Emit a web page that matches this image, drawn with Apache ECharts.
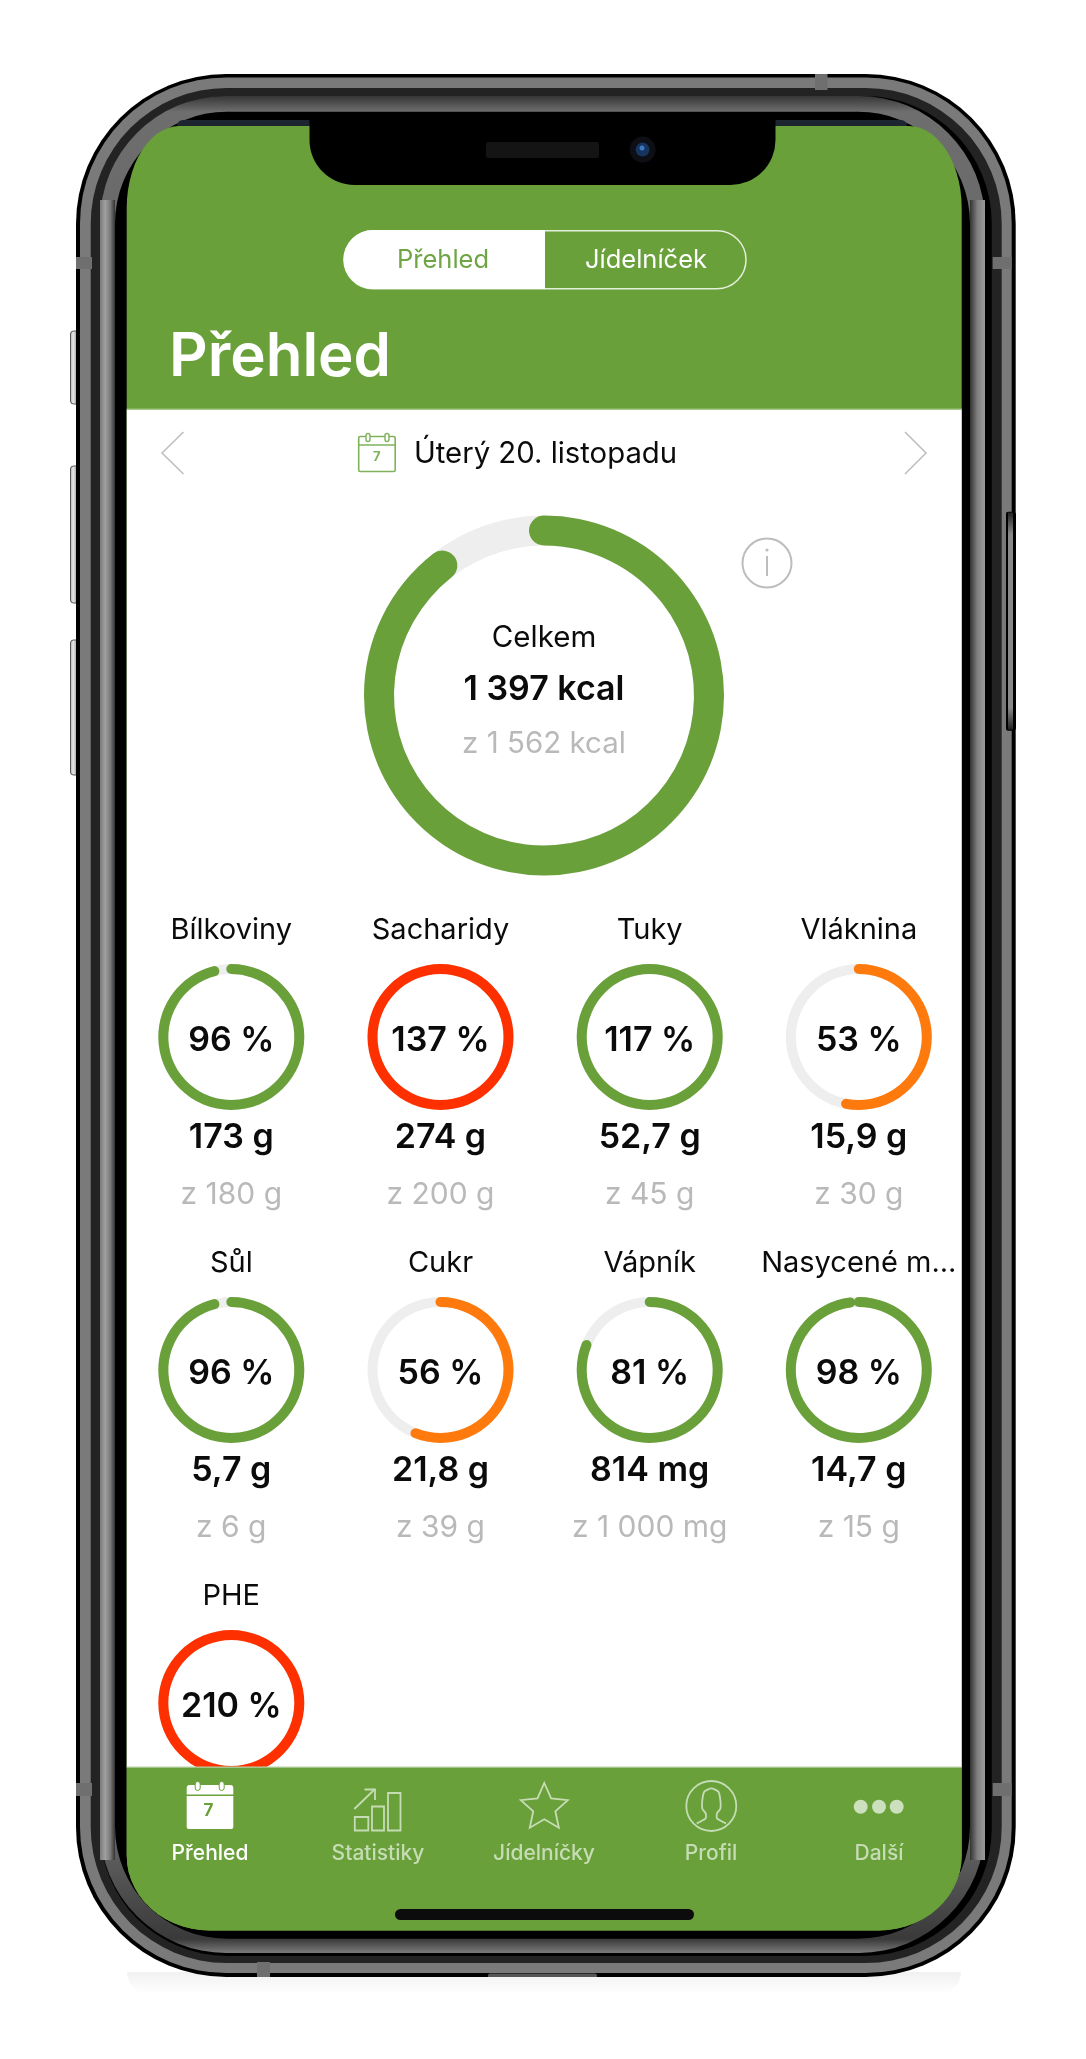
<!DOCTYPE html>
<html lang="cs">
<head>
<meta charset="utf-8">
<title>Přehled</title>
<style>html,body{margin:0;padding:0;background:#fff}#c{width:1086px;height:2059px}</style>
<script src="https://cdn.jsdelivr.net/npm/echarts@6/dist/echarts.min.js"></script>
</head>
<body>
<div id="c"></div>
<script>
// ---- data ----
const nutrientNames   = ['Bílkoviny','Sacharidy','Tuky','Vláknina','Sůl','Cukr','Vápník','Nasycené m...','PHE'];
const nutrientPercent = [96,137,117,53,96,56,81,98,210];
const nutrientStatus  = ['ok','over','ok','low','ok','low','ok','ok','over'];
const nutrientAmounts = ['173 g','274 g','52,7 g','15,9 g','5,7 g','21,8 g','814 mg','14,7 g',''];
const nutrientTargets = ['z 180 g','z 200 g','z 45 g','z 30 g','z 6 g','z 39 g','z 1 000 mg','z 15 g',''];
const totalKcal = 1397;
const targetKcal = 1562;
const totalLabel = 'Celkem';
const totalText = '1 397 kcal';
const targetText = 'z 1 562 kcal';
const tabLabels = ['Přehled','Statistiky','Jídelníčky','Profil','Další'];
const segmentLabels = ['Přehled','Jídelníček'];
const pageTitle = 'Přehled';
const dateText = 'Úterý 20. listopadu';

// ---- style / layout ----
const GREEN='#69a03a', RED='#ff3000', ORANGE='#ff7a0d', TRACK='#eeeeee', GREY='#b9b9b9', INK='#0b0b0b';
const statusColor={ok:GREEN,over:RED,low:ORANGE};
const FONT='Inter, "Noto Sans", sans-serif';
const colX=[231.3,440.5,649.7,858.8], rowY=[1037,1370,1703];
const tabX=[210,378,544,711,879], tabDim='#c6dcb4';

// ---- gauges ----
function gauge(name,value,max,color,cx,cy,radius,width,o){
  return {
    type:'gauge',name,center:[cx,cy],radius,startAngle:90,endAngle:-270,min:0,max,
    clockwise:true,silent:true,
    axisLine:{roundCap:false,lineStyle:{width,color:[[1,TRACK]]}},
    progress:{show:true,roundCap:true,width,itemStyle:{color}},
    axisTick:{show:false},splitLine:{show:false},axisLabel:{show:false},pointer:{show:false},anchor:{show:false},
    title:Object.assign({color:INK,fontFamily:FONT},o.title),
    detail:Object.assign({color:INK,fontFamily:FONT,valueAnimation:false},o.detail),
    data:[{value,name}]
  };
}
const series=[gauge(totalLabel,totalKcal,targetKcal,GREEN,544,695.5,180,30,{
  title:{offsetCenter:[0,-57],fontSize:29.5,fontWeight:400},
  detail:{offsetCenter:[0,-5.5],fontSize:34,fontWeight:600,formatter:()=>totalText}
})];
nutrientNames.forEach((n,i)=>{
  const c=colX[i%4], r=rowY[Math.floor(i/4)];
  series.push(gauge(n,nutrientPercent[i],100,statusColor[nutrientStatus[i]],c,r,73,10,{
    title:{offsetCenter:[0,-106.5],fontSize:29,fontWeight:400},
    detail:{offsetCenter:[0,3.5],fontSize:34,fontWeight:600,formatter:'{value} %'}
  }));
});

// ---- decoration helpers ----
const Z_BACK=0, Z_TOP=10;
const els=[];
const rect=(x,y,w,h,fill,r,z,extra)=>els.push(Object.assign({type:'rect',z:z??Z_BACK,silent:true,shape:{x,y,width:w,height:h,r:r||0},style:{fill}},extra||{}));
const hgrad=(stops)=>({type:'linear',x:0,y:0,x2:1,y2:0,colorStops:stops});
const vgrad=(stops)=>({type:'linear',x:0,y:0,x2:0,y2:1,colorStops:stops});
const text=(x,y,t,fill,size,weight,align,z)=>els.push({type:'text',z:z??Z_TOP,silent:true,style:{x,y,text:t,fill,font:`${weight||400} ${size}px ${FONT}`,textAlign:align||'center',textVerticalAlign:'middle'}});
const line=(pts,stroke,w,z,extra)=>els.push({type:'polyline',z:z??Z_TOP,silent:true,shape:Object.assign({points:pts},extra||{}),style:{stroke,lineWidth:w,fill:null,lineJoin:'miter'}});
const circle=(cx,cy,r,fill,stroke,w,z)=>els.push({type:'circle',z:z??Z_TOP,silent:true,shape:{cx,cy,r},style:{fill:fill||null,stroke:stroke||null,lineWidth:w||0}});
function screenShape(x,y,w,h,rxT,ryT,rxB,ryB){
  const p=[],n=14;
  const arc=(cx,cy,rx,ry,a0)=>{for(let i=0;i<=n;i++){const a=a0+i/n*Math.PI/2;p.push([cx+rx*Math.cos(a),cy+ry*Math.sin(a)]);}};
  arc(x+rxT,y+ryT,rxT,ryT,Math.PI);
  arc(x+w-rxT,y+ryT,rxT,ryT,-Math.PI/2);
  arc(x+w-rxB,y+h-ryB,rxB,ryB,0);
  arc(x+rxB,y+h-ryB,rxB,ryB,Math.PI/2);
  return p;
}

// ---- phone body ----
rect(127,1972,834,22,vgrad([{offset:0,color:'#f1f1f1'},{offset:1,color:'#ffffff'}]),[0,0,40,40]);
[[331,73],[466,137],[640,135]].forEach(([y,h])=>els.push({type:'rect',z:Z_BACK,silent:true,shape:{x:70.5,y,width:7,height:h,r:[3,0,0,3]},style:{fill:hgrad([{offset:0,color:'#a8a8a8'},{offset:.4,color:'#e8e8e8'},{offset:1,color:'#8a8a8a'}]),stroke:'#555555',lineWidth:1}}));
rect(76,74,939.7,1903,'#000000',150);
rect(80,77.5,931.7,1895.5,'#7a7a7a',146);
rect(90.7,88,911,1875,'#232323',136);
rect(100,96,891.7,1860,'#000000',127);
// inner bezel: dark towards the outer rim at top and bottom, lighter towards the screen
const bezelH=1857;
rect(100,96,885,bezelH,vgrad([
  {offset:0,color:'#363636'},{offset:15.7/bezelH,color:'#6e6e6e'},{offset:120/bezelH,color:'#6a6a6a'},
  {offset:1-130/bezelH,color:'#6a6a6a'},{offset:1-14.5/bezelH,color:'#3a3a3a'},{offset:1-14.4/bezelH,color:'#383838'},{offset:1,color:'#7a7a7a'}]),126);
rect(100,200,15,1660,hgrad([{offset:0,color:'#7a7a7a'},{offset:.35,color:'#a0a0a0'},{offset:.7,color:'#777777'},{offset:1,color:'#333333'}]));
rect(970,200,15,1660,hgrad([{offset:0,color:'#333333'},{offset:.5,color:'#808080'},{offset:1,color:'#999999'}]));
rect(115,111.7,855,1827,'#000000',112);
// right side button
rect(1006,511.7,10,219,'#000000',[2,3,3,2]);
rect(1008,512.5,5,217,vgrad([{offset:0,color:'#222222'},{offset:.1,color:'#888888'},{offset:.9,color:'#888888'},{offset:1,color:'#222222'}]));
[[815,74,12.5,16],[76,257,16,12],[992.7,257,19,12],[76,1783,16,13],[992.7,1783,19,13],[257,1962,13,15]].forEach(b=>rect(b[0],b[1],b[2],b[3],'#6f6f6f'));
rect(488,1973.5,109,3.5,'#555555',[2,2,0,0]);

// ---- screen ----
rect(177,120,730,10,'#1d2530',[6,6,0,0]);
els.push({type:'polygon',z:Z_BACK,silent:true,shape:{points:screenShape(126.7,126,835,1804.5,53,82,83,75)},style:{fill:GREEN}});
rect(126.7,409.5,835,1357.5,'#ffffff');
rect(126.7,408.5,835,1,'#9cc07c');
// notch
rect(309.5,112,466,73,'#000000',[0,0,45,45]);
rect(486,142,113,16,'#141414',2);
circle(642.6,149.6,13,'#0d0f14',null,0,Z_BACK);
circle(642.6,149.6,7,'#16345e',null,0,Z_BACK);
circle(642,148,2.5,'#3f78bf',null,0,Z_BACK);

// ---- header ----
rect(344,230.7,402,58,GREEN,29,Z_BACK,{style:{fill:GREEN,stroke:'#e4efdb',lineWidth:1.5}});
els.push({type:'rect',z:Z_BACK,silent:true,shape:{x:343.5,y:230,width:201.5,height:59,r:[29.5,0,0,29.5]},style:{fill:'#ffffff'}});
text(443,260,segmentLabels[0],'#6fa545',25.5,400);
text(646,260,segmentLabels[1],'#ffffff',25.5,400);
text(169,358,pageTitle,'#ffffff',60,600,'left');

// ---- date row ----
line([[183.5,432],[162,453],[183.5,474]],'#bdbdbd',1.5);
line([[905,432],[926,453],[905,474]],'#bdbdbd',1.5);
const CAL='#7fb25a';
els.push({type:'rect',z:Z_TOP,silent:true,shape:{x:358.7,y:436.5,width:36.5,height:35,r:1.5},style:{fill:'#fff',stroke:CAL,lineWidth:1.6}});
line([[358.7,445],[395.2,445]],CAL,1.5);
[368,387].forEach(x=>els.push({type:'rect',z:Z_TOP,silent:true,shape:{x:x-2,y:433.5,width:4,height:8,r:2},style:{fill:'#fff',stroke:CAL,lineWidth:1.4}}));
text(376.8,457.5,'7',CAL,13,700);
text(414,454,dateText,INK,29.3,400,'left');

// ---- info ----
circle(767,563,24.5,null,'#bdbdbd',2);
line([[767,556],[767,576]],'#bdbdbd',2);
circle(767,550,1.6,'#bdbdbd');

// ---- texts under the gauges ----
text(544,744.5,targetText,GREY,29.5,400);
nutrientNames.forEach((n,i)=>{
  const c=colX[i%4], r=rowY[Math.floor(i/4)];
  if(nutrientAmounts[i]) text(c,r+101,nutrientAmounts[i],INK,34,600);
  if(nutrientTargets[i]) text(c,r+158,nutrientTargets[i],GREY,30,400);
});

// ---- tab bar (above the gauges so that it cuts the last ring) ----
els.push({type:'polygon',z:Z_TOP,silent:true,shape:{points:screenShape(126.7,1767,835,163.5,0.01,0.01,83,75)},style:{fill:GREEN}});
rect(126.7,1766.5,835,1.2,'#b9d2a4',0,Z_TOP);
tabLabels.forEach((t,i)=>text(tabX[i],1854,t,i===0?'#ffffff':tabDim,21,500));
// calendar
rect(186.7,1785,46.6,9.5,'#ffffff',[3,3,0,0],Z_TOP);
rect(186.7,1796,46.6,33,'#ffffff',[0,0,2,2],Z_TOP);
[197.7,221.7].forEach(x=>els.push({type:'rect',z:Z_TOP,silent:true,shape:{x:x-2.5,y:1781.5,width:5,height:9,r:2.5},style:{fill:'#fff',stroke:GREEN,lineWidth:1}}));
text(208.5,1811,'7',GREEN,17,700);
// statistics
[[354.8,1817,13.5,13.5],[372,1806.5,12,24],[388,1793,12.5,37.5]].forEach(b=>els.push({type:'rect',z:Z_TOP,silent:true,shape:{x:b[0],y:b[1],width:b[2],height:b[3]},style:{fill:null,stroke:tabDim,lineWidth:1.8}}));
line([[354.3,1809],[374.5,1789.5]],tabDim,1.8);
line([[364.5,1789.5],[375,1789.5],[375,1800]],tabDim,1.8);
// star
{
  const pts=[],R=24.7,cx=544.3,cy=1807.7;
  for(let i=0;i<10;i++){const rr=i%2?R*0.47:R,a=-Math.PI/2+i*Math.PI/5;pts.push([cx+rr*Math.cos(a),cy+rr*Math.sin(a)]);}
  els.push({type:'polygon',z:Z_TOP,silent:true,shape:{points:pts},style:{fill:null,stroke:tabDim,lineWidth:1.8}});
}
// profile
circle(711.3,1806,25,null,tabDim,1.8);
const z7=p=>p.map(q=>[540+q[0]/3,1750+q[1]/3]);
line(z7([[470,220],[497,205],[497,190],[487,176],[487,150],[493,125],[514,115],[535,125],[541,150],[541,176],[531,190],[531,205],[558,220]]),tabDim,1.8,Z_TOP,{smooth:0.2});
// dots
[860.7,879,896.7].forEach(x=>circle(x,1806.7,7,'#cde0bd'));
// home bar
rect(395,1909,299,11,'#0c0c0c',5.5,Z_TOP);

const chart=echarts.init(document.getElementById('c'));
chart.setOption({animation:false,backgroundColor:'#ffffff',series,graphic:{elements:els}});
</script>
</body>
</html>
